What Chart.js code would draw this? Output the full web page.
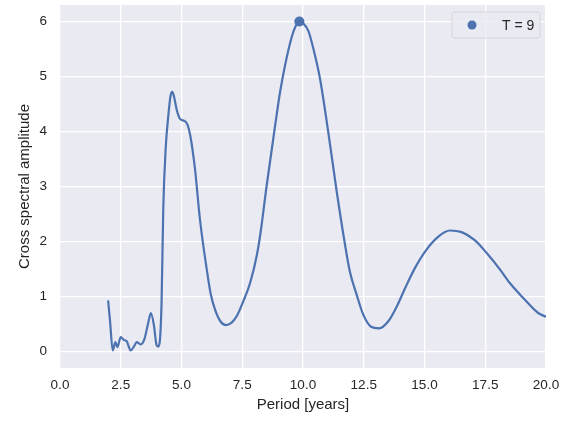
<!DOCTYPE html>
<html>
<head>
<meta charset="utf-8">
<script src="https://cdn.jsdelivr.net/npm/chart.js@4/dist/chart.umd.min.js"></script>
<style>
  html, body { margin: 0; padding: 0; background: #ffffff; }
  #wrap { width: 568px; height: 421px; }
</style>
</head>
<body>
<div id="wrap"><canvas id="spectrum_chart"></canvas></div>
<script>
// period [years] and cross spectral amplitude
const periods = [1.98, 2.06, 2.17, 2.28, 2.36, 2.50, 2.63, 2.74, 2.91, 3.04, 3.16, 3.32, 3.47, 3.63, 3.74, 3.87,
    3.97, 4.04, 4.10, 4.18, 4.25, 4.35, 4.46, 4.55, 4.62, 4.70, 4.80, 4.94, 5.14, 5.25, 5.35, 5.45, 5.56, 5.76,
    6.04, 6.20, 6.38, 6.60, 6.83, 7.05, 7.27, 7.55, 7.82, 8.10, 8.25, 8.50, 8.85, 9.05, 9.26, 9.53, 9.70, 9.85,
    10.00, 10.22, 10.43, 10.70, 11.04, 11.39, 11.73, 11.93, 12.21, 12.48, 12.80, 13.13, 13.51, 13.86, 14.20,
    14.61, 15.06, 15.57, 16.05, 16.53, 17.08, 17.56, 18.11, 18.52, 19.07, 19.68, 20.00, 20.30]
const amplitudes = [0.93, 0.55, 0.02, 0.17, 0.08, 0.26, 0.21, 0.19, 0.02, 0.09, 0.17, 0.13, 0.22, 0.52, 0.70, 0.46,
    0.12, 0.09, 0.16, 0.90, 2.60, 3.70, 4.30, 4.65, 4.72, 4.62, 4.40, 4.23, 4.19, 4.12, 3.95, 3.68, 3.30, 2.40,
    1.49, 1.05, 0.76, 0.55, 0.48, 0.52, 0.64, 0.92, 1.24, 1.75, 2.15, 3.00, 4.10, 4.70, 5.20, 5.71, 5.92, 6.00,
    5.97, 5.83, 5.50, 4.96, 3.99, 2.90, 1.94, 1.45, 1.03, 0.67, 0.45, 0.42, 0.55, 0.82, 1.15,
    1.52, 1.84, 2.09, 2.20, 2.17, 2.02, 1.79, 1.49, 1.24, 0.97, 0.70, 0.63, 0.56]

// the marked maximum
const peakLabel = 'T = 9'
const peakPeriod = [9.85]
const peakAmplitude = [6.00]

const xTicks = [0, 2.5, 5, 7.5, 10, 12.5, 15, 17.5, 20]
const yTicks = [0, 1, 2, 3, 4, 5, 6]

const BLUE = '#4C72B0'
const FONT = "'Liberation Sans', Arial, sans-serif"

// seaborn style grey plot area
const plotBackground = {
    id: 'plotBackground',
    beforeDraw(chart) {
        const { ctx, chartArea: a } = chart
        ctx.save()
        ctx.fillStyle = '#EAEAF2'
        ctx.fillRect(a.left, a.top, a.right - a.left, a.bottom - a.top)
        ctx.restore()
    }
}

// matplotlib like legend box in the upper right corner
const boxLegend = {
    id: 'boxLegend',
    afterDraw(chart) {
        const { ctx, chartArea: a } = chart
        const ds = chart.data.datasets[1]
        const w = 88, h = 26
        const x = a.right - 6 - w, y = a.top + 7
        ctx.save()
        ctx.beginPath()
        ctx.roundRect(x, y, w, h, 3)
        ctx.fillStyle = 'rgba(234,234,242,0.8)'
        ctx.fill()
        ctx.strokeStyle = '#d4d4d8'
        ctx.lineWidth = 1
        ctx.stroke()
        ctx.beginPath()
        ctx.arc(x + 20, y + h / 2, 4.5, 0, Math.PI * 2)
        ctx.fillStyle = ds.backgroundColor
        ctx.fill()
        ctx.fillStyle = '#262626'
        ctx.font = '14px ' + FONT
        ctx.textBaseline = 'middle'
        ctx.textAlign = 'left'
        ctx.fillText(ds.label, x + 50, y + h / 2 + 1)
        ctx.restore()
    }
}

const spectrumChart = new Chart(document.getElementById('spectrum_chart'), {
    type: 'line',
    data: {
        datasets: [{
            label: 'spectrum',
            data: periods.map((p, i) => ({ x: p, y: amplitudes[i] })),
            borderColor: BLUE,
            backgroundColor: BLUE,
            borderWidth: 2.2,
            pointRadius: 0,
            cubicInterpolationMode: 'monotone',
        }, {
            label: peakLabel,
            data: peakPeriod.map((p, i) => ({ x: p, y: peakAmplitude[i] })),
            showLine: false,
            borderColor: BLUE,
            backgroundColor: BLUE,
            pointRadius: 5,
            pointBorderWidth: 0,
        }]
    },
    options: {
        responsive: true,
        maintainAspectRatio: false,
        animation: false,
        layout: { padding: { top: 5, right: 22, left: 0, bottom: 0 } },
        plugins: {
            legend: { display: false },
            tooltip: { enabled: false },
        },
        scales: {
            x: {
                type: 'linear',
                min: 0,
                max: 20,
                afterBuildTicks: scale => { scale.ticks = xTicks.map(v => ({ value: v })) },
                afterFit: scale => {
                    scale.height = 53
                    scale.paddingLeft = 0
                    scale.paddingRight = 0
                },
                grid: { color: '#ffffff', lineWidth: 1.3, drawTicks: false },
                border: { display: false },
                ticks: {
                    padding: 9,
                    color: '#262626',
                    font: { family: FONT, size: 13.5 },
                    callback: value => value.toFixed(1),
                },
                title: {
                    display: true,
                    text: 'Period [years]',
                    color: '#262626',
                    font: { family: FONT, size: 15 },
                    padding: { top: 0, bottom: 7 },
                },
            },
            y: {
                min: -0.3,
                max: 6.3,
                afterBuildTicks: scale => { scale.ticks = yTicks.map(v => ({ value: v })) },
                afterFit: scale => {
                    scale.width = 60
                    scale.paddingTop = 0
                    scale.paddingBottom = 0
                },
                grid: { color: '#ffffff', lineWidth: 1.3, drawTicks: false },
                border: { display: false },
                ticks: {
                    padding: 13,
                    color: '#262626',
                    font: { family: FONT, size: 13.5 },
                },
                title: {
                    display: true,
                    text: 'Cross spectral amplitude',
                    color: '#262626',
                    font: { family: FONT, size: 15 },
                    padding: { top: 16, bottom: 0 },
                },
            },
        },
    },
    plugins: [plotBackground, boxLegend],
});
</script>
</body>
</html>
